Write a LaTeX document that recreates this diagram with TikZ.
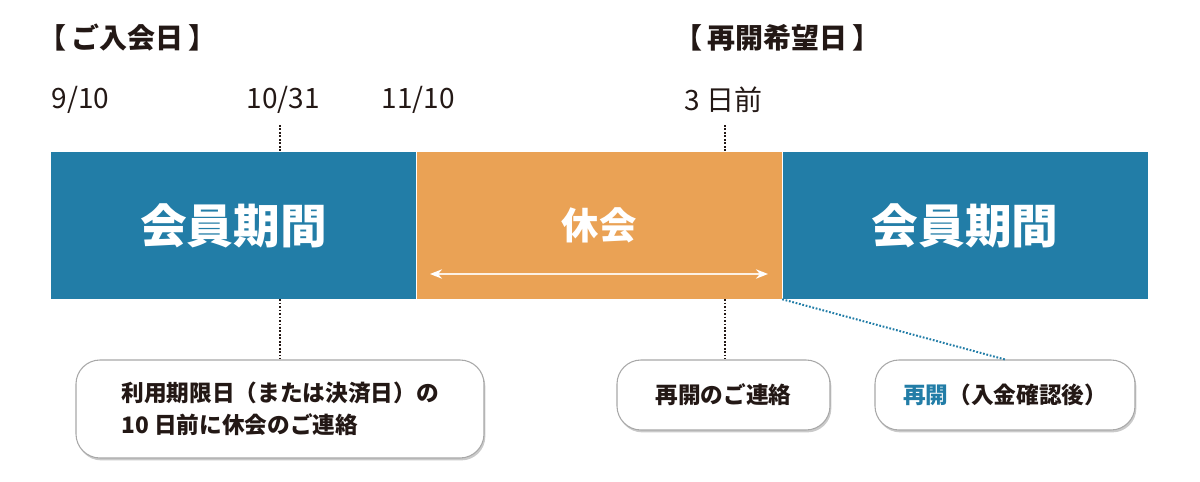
\documentclass[tikz,border=0pt]{standalone}
\usepackage{fontspec}
\setmainfont{Noto Sans CJK JP}
\usetikzlibrary{arrows.meta,shadows}

\definecolor{memberblue}{HTML}{227DA7}
\definecolor{pauseorange}{HTML}{EAA255}
\definecolor{boxline}{HTML}{A8A8A8}
\definecolor{datetext}{HTML}{231815}

\tikzset{
    period/.style={minimum width=273.75pt, minimum height=110.25pt, inner sep=0pt, text=white},
    heading/.style={anchor=west, text=datetext, font=\bfseries\fontsize{21}{24}\selectfont},
    datelabel/.style={anchor=west, text=datetext, font=\fontsize{21}{24}\selectfont},
    notebox/.style={draw=boxline, line width=0.8pt, fill=white, rounded corners=18pt, text=datetext,
        font=\bfseries\fontsize{17}{24}\selectfont, inner sep=0pt,
        drop shadow={shadow xshift=1pt, shadow yshift=-1.8pt, opacity=0.35, fill=black!60}},
    dotline/.style={dash pattern=on 1.3pt off 1.3pt, line width=1.5pt, datetext},
}

\begin{document}
\begin{tikzpicture}[x=0.75pt, y=-0.75pt]
    \useasboundingbox (0,0) rectangle (1200,482);

        %TITLES
        \node[heading] (joinhead) at (34,38) {【\,ご入会日\,】};
        \node[heading] (resumehead) at (670,38) {【\,再開希望日\,】};

        %DATES
        \node[datelabel] (d0910) at (47,100) {9/10};
        \node[datelabel] (d1031) at (242,100) {10/31};
        \node[datelabel] (d1110) at (377,100) {11/10};
        \node[datelabel] (dbefore) at (680,100) {3 日前};

        %PERIODS
        \node[period, fill=memberblue, font=\bfseries\fontsize{35}{40}\selectfont] (memberA) at (233.5,225.5) {会員期間};
        \node[period, fill=pauseorange, font=\bfseries\fontsize{28}{32}\selectfont] (pause) at (599,225.5) {休会};
        \node[period, fill=memberblue, font=\bfseries\fontsize{35}{40}\selectfont] (memberB) at (965,225.5) {会員期間};

        \coordinate (pauseL) at (430,274);
        \coordinate (pauseR) at (768,274);
        \draw[white!85!pauseorange, line width=1.4pt, {Stealth[length=9pt,width=7pt,color=white]}-{Stealth[length=9pt,width=7pt,color=white]}] (pauseL) -- (pauseR);

        %NOTES
        \node[notebox, minimum width=306pt, minimum height=73.5pt, align=left] (notice) at (280,409) {利用期限日（または決済日）の\\10 日前に休会のご連絡};
        \node[notebox, minimum width=159.75pt, minimum height=52.5pt] (contact) at (723.5,395) {再開のご連絡};
        \node[notebox, minimum width=195pt, minimum height=52.5pt] (resume) at (1005,395) {\textcolor{memberblue}{再開}（入金確認後）};

        \coordinate (markA) at (280,125);
        \coordinate (markB) at (725,125);
        \draw[dotline] (markA) -- (markA |- memberA.north);
        \draw[dotline] (markB) -- (markB |- pause.north);
        \draw[dotline] (markA |- memberA.south) -- (notice.north);
        \draw[dotline] (markB |- pause.south) -- (markB |- contact.north);
        \draw[dotline, memberblue] (memberB.south west) -- (resume.north);
\end{tikzpicture}
\end{document}
